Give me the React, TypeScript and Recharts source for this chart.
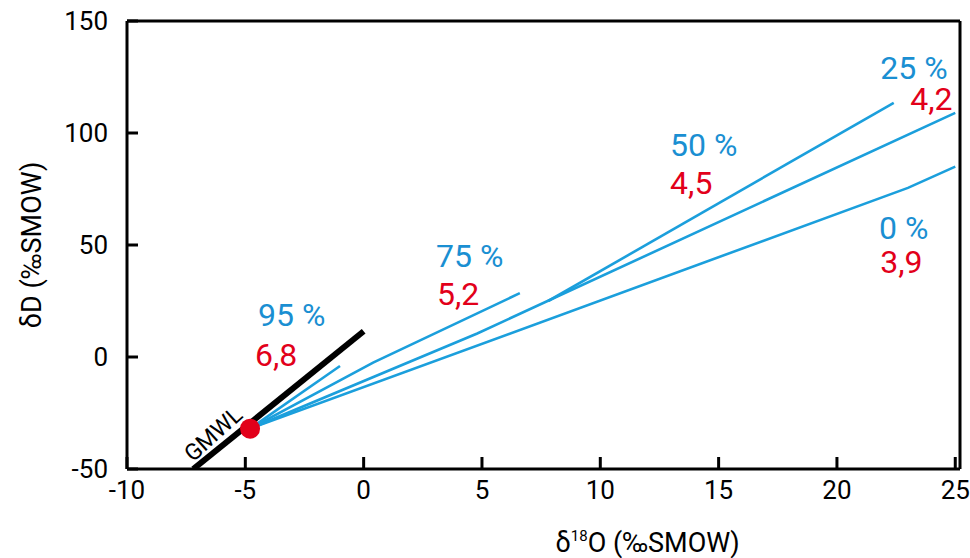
import React from 'react';
import { ScatterChart, XAxis, YAxis, Scatter, ReferenceLine } from 'recharts';

const BLUE_LINE = '#1b9fdc';
const BLUE_TEXT = '#1a8fd2';
const RED = '#e2001a';
const FONT = 'Roboto, "Open Sans", sans-serif';

const X_MIN = -10;
const X_MAX = 25.2;
const Y_MIN = -50;
const Y_MAX = 150;

const xTicks = [-10, -5, 0, 5, 10, 15, 20, 25];
const yTicks = [-50, 0, 50, 100, 150];

// Global meteoric water line
const gmwl = [
  { x: -7.2, y: -50 },
  { x: 0, y: 11.5 },
];

// Evaporation lines (humidity %)
const line0 = [
  { x: -4.8, y: -32 },
  { x: 23, y: 75.5 },
  { x: 25, y: 85 },
];
const line25 = [
  { x: -4.8, y: -32 },
  { x: 4.8, y: 10.5 },
  { x: 25, y: 109 },
];
const line50 = [
  { x: 7.8, y: 25 },
  { x: 22.4, y: 113.5 },
];
const line75 = [
  { x: -4.8, y: -32 },
  { x: 0.4, y: -2.5 },
  { x: 6.6, y: 28.5 },
];
const line95 = [
  { x: -4.8, y: -32 },
  { x: -1, y: -4 },
];

const startPoint = [{ x: -4.8, y: -32 }];

// Humidity labels (blue) and slope labels (red)
const humidityLabels = [
  { x: -4.46, y: 18.7, text: '95 %' },
  { x: 3.06, y: 44.9, text: '75 %' },
  { x: 12.95, y: 94.6, text: '50 %' },
  { x: 21.83, y: 129.2, text: '25 %' },
  { x: 21.78, y: 57.8, text: '0 %' },
];
const slopeLabels = [
  { x: -4.59, y: 1.0, text: '6,8' },
  { x: 3.1, y: 28.3, text: '5,2' },
  { x: 12.95, y: 77.5, text: '4,5' },
  { x: 23.1, y: 115.2, text: '4,2' },
  { x: 21.83, y: 42.6, text: '3,9' },
];
const gmwlLabel = [{ x: -6.35, y: -34.5, text: 'GMWL' }];

const noShape = () => <g />;

const makeText = (fill: string, size: number) => (props: any) => (
  <text
    x={props.cx}
    y={props.cy}
    fill={fill}
    fontSize={size}
    fontFamily={FONT}
    textAnchor="start"
    dominantBaseline="central"
  >
    {props.payload.text}
  </text>
);

const GmwlText = (props: any) => (
  <text
    x={props.cx}
    y={props.cy}
    fill="#000"
    fontSize={23}
    fontFamily={FONT}
    textAnchor="middle"
    dominantBaseline="central"
    transform={`rotate(-42 ${props.cx} ${props.cy})`}
  >
    {props.payload.text}
  </text>
);

const RedDot = (props: any) => (
  <circle cx={props.cx} cy={props.cy} r={10} fill={RED} />
);

const XTitle = (props: any) => {
  const vb = props.viewBox || { x: 127, y: 469, width: 833, height: 89 };
  return (
    <text
      x={vb.x + vb.width * 0.625}
      y={vb.y + 83}
      textAnchor="middle"
      fontSize={27}
      fontFamily={FONT}
      fill="#000"
    >
      δ<tspan fontSize={15} dy={-11}>18</tspan>
      <tspan dy={11}>O (‰SMOW)</tspan>
    </text>
  );
};

const YTitle = (props: any) => {
  const vb = props.viewBox || { x: 0, y: 21, width: 127, height: 448 };
  const cx = 32;
  const cy = vb.y + vb.height / 2;
  return (
    <text
      x={cx}
      y={cy}
      textAnchor="middle"
      dominantBaseline="central"
      fontSize={27}
      fontFamily={FONT}
      fill="#000"
      transform={`rotate(-90 ${cx} ${cy})`}
    >
      δD (‰SMOW)
    </text>
  );
};

const axisStyle = { stroke: '#000', strokeWidth: 3 };
const tickStyle = { fill: '#000', fontSize: 26, fontFamily: FONT };

export default function App() {
  return (
    <div style={{ position: 'absolute', left: 0, top: 0, width: 970, height: 558, background: '#fff' }}>
      <ScatterChart width={970} height={558} margin={{ top: 21, right: 10, bottom: 0, left: 0 }}>
        <XAxis
          type="number"
          dataKey="x"
          domain={[X_MIN, X_MAX]}
          ticks={xTicks}
          allowDataOverflow
          height={89}
          axisLine={axisStyle}
          tickLine={axisStyle}
          tickSize={-12}
          tickMargin={24}
          tick={tickStyle}
          label={<XTitle />}
        />
        <YAxis
          type="number"
          dataKey="y"
          domain={[Y_MIN, Y_MAX]}
          ticks={yTicks}
          allowDataOverflow
          width={127}
          axisLine={axisStyle}
          tickLine={axisStyle}
          tickSize={-11}
          tickMargin={30}
          tick={tickStyle}
          label={<YTitle />}
        />
        <ReferenceLine y={Y_MAX} stroke="#000" strokeWidth={3} />
        <ReferenceLine x={X_MAX} stroke="#000" strokeWidth={3} />
        <Scatter data={gmwl} line={{ stroke: '#000', strokeWidth: 6 }} shape={noShape} isAnimationActive={false} />
        <Scatter data={line0} line={{ stroke: BLUE_LINE, strokeWidth: 2.6 }} shape={noShape} isAnimationActive={false} />
        <Scatter data={line25} line={{ stroke: BLUE_LINE, strokeWidth: 2.6 }} shape={noShape} isAnimationActive={false} />
        <Scatter data={line50} line={{ stroke: BLUE_LINE, strokeWidth: 2.6 }} shape={noShape} isAnimationActive={false} />
        <Scatter data={line75} line={{ stroke: BLUE_LINE, strokeWidth: 2.6 }} shape={noShape} isAnimationActive={false} />
        <Scatter data={line95} line={{ stroke: BLUE_LINE, strokeWidth: 2.6 }} shape={noShape} isAnimationActive={false} />
        <Scatter data={startPoint} shape={RedDot} isAnimationActive={false} />
        <Scatter data={humidityLabels} shape={makeText(BLUE_TEXT, 32)} isAnimationActive={false} />
        <Scatter data={slopeLabels} shape={makeText(RED, 32)} isAnimationActive={false} />
        <Scatter data={gmwlLabel} shape={GmwlText} isAnimationActive={false} />
      </ScatterChart>
    </div>
  );
}
